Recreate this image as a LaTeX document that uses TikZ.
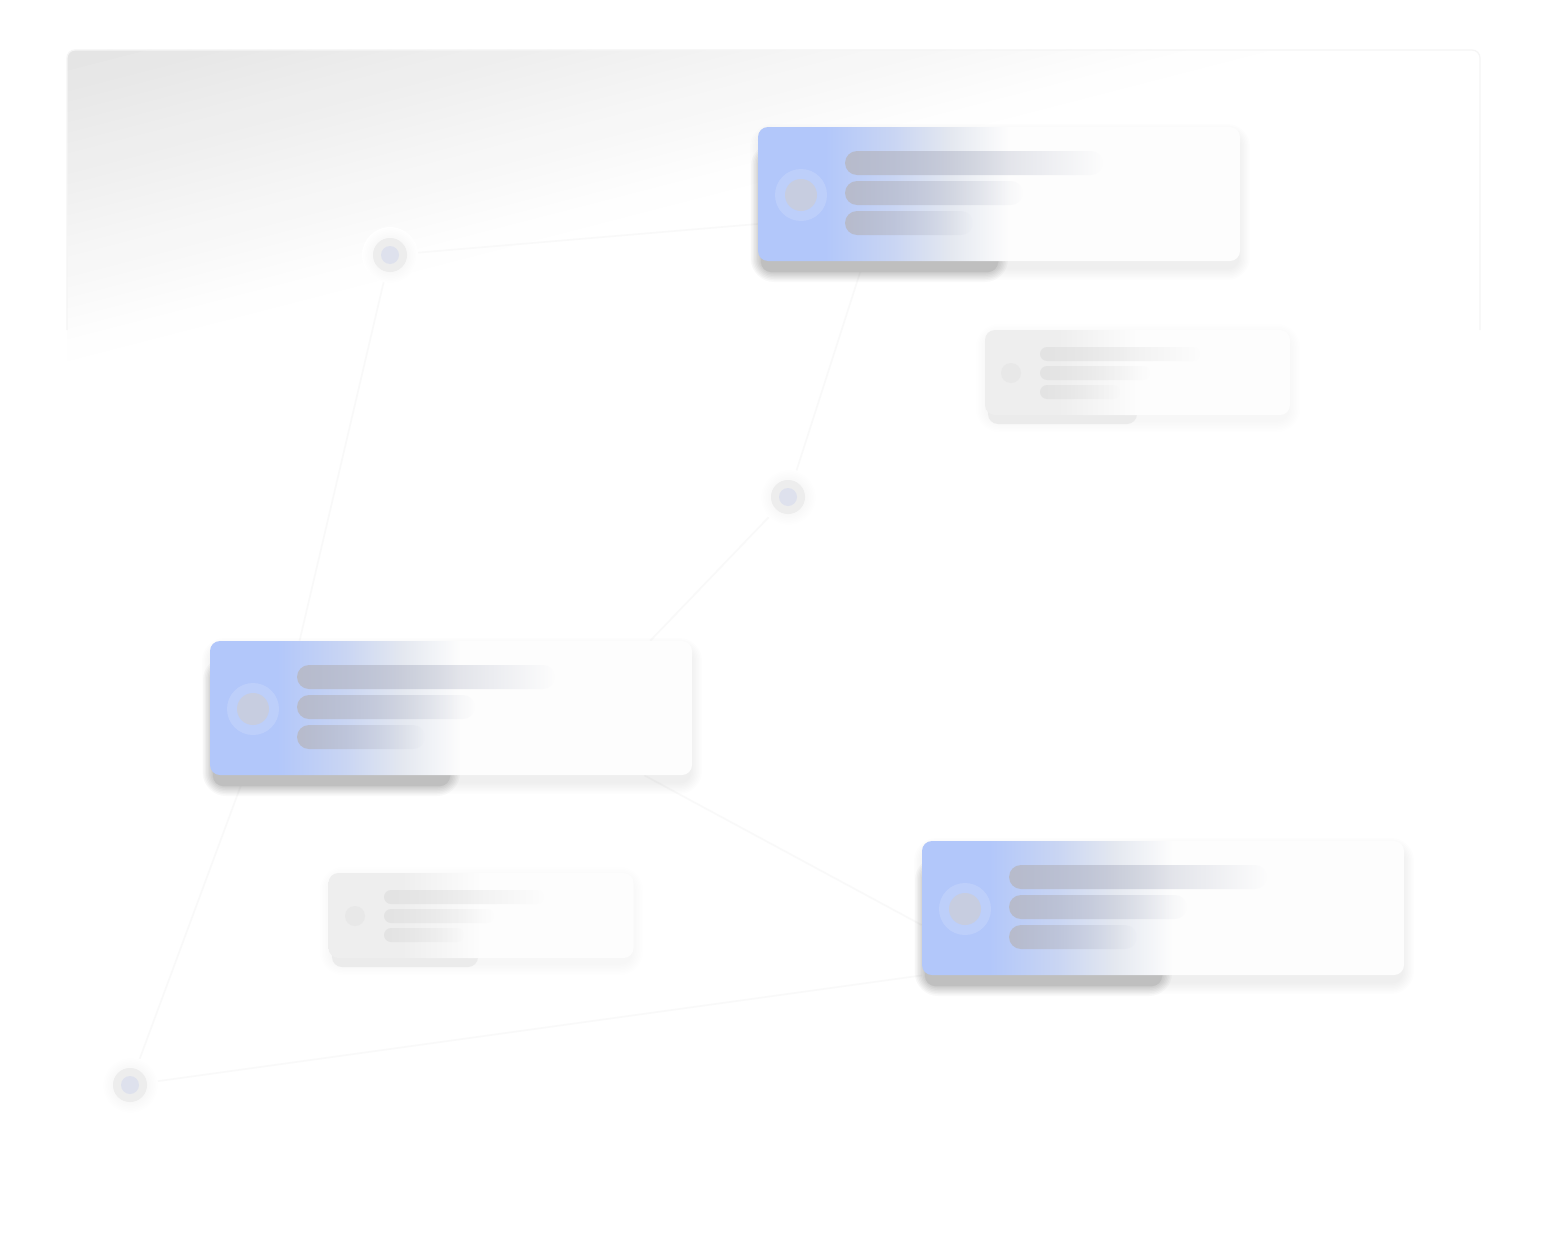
\documentclass[tikz,border=0pt]{standalone}
\usetikzlibrary{fadings,calc}
\pgfdeclarelayer{bg}
\pgfsetlayers{bg,main}
\definecolor{cb0}{HTML}{B2C7FA}
\definecolor{cb1}{HTML}{C9D5F3}
\definecolor{cb2}{HTML}{E4E8F0}
\definecolor{cw}{HTML}{FDFDFD}
\definecolor{barc}{HTML}{B7BBCB}
\definecolor{dotc}{HTML}{C7CDE0}
\definecolor{dotblue}{HTML}{DEE1ED}
\definecolor{fadeg}{HTML}{EEEEEE}
\pgfdeclarehorizontalshading{cardblue}{100bp}{color(0bp)=(cb0); color(25bp)=(cb0); color(32bp)=(cb0); color(39bp)=(cb1); color(45bp)=(cb2); color(51bp)=(cw); color(100bp)=(cw)}
\pgfdeclarehorizontalshading{cardgray}{100bp}{color(0bp)=(fadeg); color(25bp)=(fadeg); color(37bp)=(fadeg); color(50bp)=(cw); color(100bp)=(cw)}
\tikzfading[name=barfade, left color=transparent!0, right color=transparent!100]
% soft shadow: x1 y1 x2 y2 opacity-per-layer
\newcommand\softshade[5]{%
  \foreach \k in {1,...,8}{%
    \fill[black, opacity=#5, rounded corners=5pt+\k*0.8pt] (#1-\k*1.5,#2-\k*1.5) rectangle (#3+\k*1.5,#4+\k*1.5);
  }}
\begin{document}
\begin{tikzpicture}[x=0.5pt,y=-0.5pt,
  link/.style={draw=black!2.5, line width=0.8pt},
  bluecard/.style={rectangle, rounded corners=5pt, inner sep=0pt, minimum width=241pt, minimum height=67pt, shade, shading=cardblue},
  graycard/.style={rectangle, rounded corners=5pt, inner sep=0pt, minimum width=152.5pt, minimum height=42.5pt, shade, shading=cardgray},
  bar/.style={fill=barc, path fading=barfade, rounded corners=6pt},
  gbar/.style={fill=black!11, path fading=barfade, rounded corners=3.5pt},
  dotnode/.style={circle, inner sep=0pt, minimum size=17pt, fill=black!7},
  halo/.style={inner color=black!7, outer color=white}
]
\useasboundingbox (0,0) rectangle (1550,1236);

% ---------- soft shadows ----------
\softshade{762}{136}{1238}{268}{0.007}
\softshade{214}{650}{690}{782}{0.007}
\softshade{926}{850}{1402}{982}{0.007}
\softshade{988}{336}{1288}{420}{0.004}
\softshade{332}{879}{631}{963}{0.004}
% ---------- dark shadows under left part of cards ----------
\softshade{763}{155}{996}{270}{0.025}
\fill[black!25, rounded corners=5pt] (761,151) rectangle (998,272);
\softshade{215}{669}{448}{784}{0.025}
\fill[black!25, rounded corners=5pt] (213,665) rectangle (450,786);
\softshade{927}{869}{1160}{984}{0.025}
\fill[black!25, rounded corners=5pt] (925,865) rectangle (1162,986);
\fill[black!8, rounded corners=5pt] (988,350) rectangle (1137,424);
\fill[black!8, rounded corners=5pt] (332,893) rectangle (478,967);

% ---------- cards ----------
\node[bluecard] (c1) at (999,194) {};
\node[bluecard] (c2) at (451,708) {};
\node[bluecard] (c3) at (1163,908) {};
\node[graycard] (ga) at (1137.5,372.5) {};
\node[graycard] (gb) at (481,915.5) {};

% card contents
\foreach \ox/\oy in {758/127, 210/641, 922/841}{
  \begin{scope}[shift={(\ox,\oy)}]
    \fill[bar] (87,24) rectangle (345,48);
    \fill[bar] (87,54) rectangle (265,78);
    \fill[bar] (87,84) rectangle (215,108);
    \fill[white, opacity=0.15] (43,68) circle (13pt);
    \fill[dotc] (43,68) circle (8pt);
  \end{scope}
}
\foreach \ox/\oy in {985/330, 329/873}{
  \begin{scope}[shift={(\ox,\oy)}]
    \fill[gbar] (55,17) rectangle (215,31);
    \fill[gbar] (55,36) rectangle (165,50);
    \fill[gbar] (55,55) rectangle (135,69);
    \fill[black!9] (26,43) circle (5pt);
  \end{scope}
}

% ---------- dots ----------
\foreach \px/\py in {390/255, 788/497, 130/1085}{
  \shade[halo] (\px,\py) circle (14pt);
}
\node[dotnode] (d1) at (390,255) {};
\node[dotnode] (d2) at (788,497) {};
\node[dotnode] (d3) at (130,1085) {};
\fill[dotblue] (d1) circle (4.5pt);
\fill[dotblue] (d2) circle (4.5pt);
\fill[dotblue] (d3) circle (4.5pt);

% ---------- background panel and links ----------
\begin{pgfonlayer}{bg}
  \fill[white] (0,0) rectangle (1550,1236);
  \begin{scope}
    \clip[rounded corners=4pt] (67,50) rectangle (1480,1190);
    \foreach \i in {0,...,29}{
      \pgfmathsetmacro\ta{10*\i}
      \pgfmathsetmacro\tb{10*\i+11}
      \pgfmathsetmacro\p{10.5*(1-(\i+0.5)/30)}
      \pgfmathsetmacro\xa{67+0.25*\ta-387}
      \pgfmathsetmacro\ya{50+0.968*\ta+100}
      \pgfmathsetmacro\xb{67+0.25*\ta+1646}
      \pgfmathsetmacro\yb{50+0.968*\ta-425}
      \pgfmathsetmacro\xc{67+0.25*\tb+1646}
      \pgfmathsetmacro\yc{50+0.968*\tb-425}
      \pgfmathsetmacro\xd{67+0.25*\tb-387}
      \pgfmathsetmacro\yd{50+0.968*\tb+100}
      \fill[black!\p] (\xa,\ya) -- (\xb,\yb) -- (\xc,\yc) -- (\xd,\yd) -- cycle;
    }
  \end{scope}
  \draw[black!4, line width=0.6pt, rounded corners=4pt] (67,330) -- (67,50) -- (1480,50) -- (1480,330);
  % links
  \draw[link] (d1) -- ($(c1.west)+(0,30)$);
  \draw[link] (d1) -- ($(c2.north west)+(90,0)$);
  \draw[link] ($(c2.south west)+(35,0)$) -- (d3);
  \draw[link] ($(c1.south west)+(106,0)$) -- (d2);
  \draw[link] (d2) -- ($(c2.north east)+(-42,0)$);
  \draw[link] ($(c2.south east)+(-48,0)$) -- ($(c3.west)+(0,17)$);
  \draw[link] (d3) -- (c3.south west);
\end{pgfonlayer}
\end{tikzpicture}
\end{document}
